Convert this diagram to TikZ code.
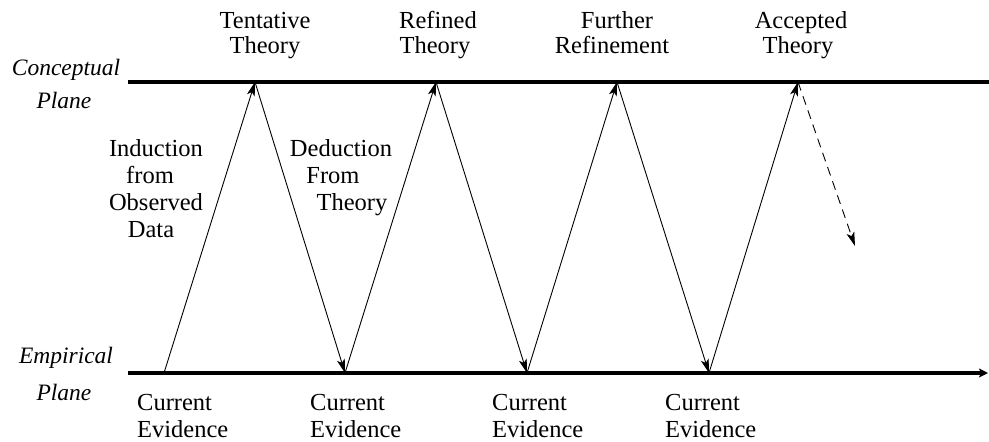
\documentclass[tikz,border=0pt]{standalone}
\usepackage{fontspec}
\setmainfont{Liberation Serif}
\usetikzlibrary{arrows.meta}
\begin{document}
\begin{tikzpicture}[x=1pt,y=-1pt,
  lbl/.style={font=\fontsize{24.5}{27}\selectfont, inner sep=0pt, anchor=base},
  lblw/.style={lbl, anchor=base west},
  plane/.style={lbl, font=\fontsize{23.5}{26}\selectfont\itshape},
  axisline/.style={line width=3.5pt},
  zig/.style={line width=0.9pt, -{Stealth[length=14pt,width=8pt,inset=3.5pt]}},
  zigdash/.style={zig, dash pattern=on 9pt off 6pt}]
\useasboundingbox (0,0) rectangle (989,442);

% planes
\coordinate (cl) at (128,82);
\coordinate (cr) at (989,82);
\coordinate (el) at (128,373);
\coordinate (er) at (988,373);
\draw[axisline] (cl) -- (cr);
\draw[axisline, -{Stealth[length=9pt,width=9pt,inset=2pt]}] (el) -- (er);

% vertices
\coordinate (b0) at (164,373);
\coordinate (t1) at (255,82);
\coordinate (b1) at (345,373);
\coordinate (t2) at (436,82);
\coordinate (b2) at (527,373);
\coordinate (t3) at (617,82);
\coordinate (b3) at (709,373);
\coordinate (t4) at (798,82);
\coordinate (d)  at (855,246);

\draw[zig] (b0) -- (t1);
\draw[zig] (t1) -- (b1);
\draw[zig] (b1) -- (t2);
\draw[zig] (t2) -- (b2);
\draw[zig] (b2) -- (t3);
\draw[zig] (t3) -- (b3);
\draw[zig] (b3) -- (t4);
\draw[zigdash] (t4) -- (d);

% plane labels
\node[plane] (conc) at (66,75) {Conceptual};
\node[plane] (concp) at (64,108) {Plane};
\node[plane] (emp) at (66,363) {Empirical};
\node[plane] (empp) at (64,400) {Plane};

% top labels
\node[lbl] (tt1) at (265,28) {Tentative};
\node[lbl] (tt2) at (265,53) {Theory};
\node[lbl] (rt1) at (438,28) {Refined};
\node[lbl] (rt2) at (435,53) {Theory};
\node[lbl] (fr1) at (617,28) {Further};
\node[lbl] (fr2) at (612,53) {Refinement};
\node[lbl] (at1) at (801,28) {Accepted};
\node[lbl] (at2) at (798,53) {Theory};

% induction / deduction
\node[lbl] (in1) at (156,156) {Induction};
\node[lbl] (in2) at (150,183) {from};
\node[lbl] (in3) at (156,210) {Observed};
\node[lbl] (in4) at (151,237) {Data};
\node[lbl] (de1) at (341,156) {Deduction};
\node[lbl] (de2) at (333,183) {From};
\node[lbl] (de3) at (352,210) {Theory};

% current evidence
\node[lblw] (ce1a) at (137,410) {Current};
\node[lblw] (ce1b) at (137,437) {Evidence};
\node[lblw] (ce2a) at (310,410) {Current};
\node[lblw] (ce2b) at (310,437) {Evidence};
\node[lblw] (ce3a) at (492,410) {Current};
\node[lblw] (ce3b) at (492,437) {Evidence};
\node[lblw] (ce4a) at (665,410) {Current};
\node[lblw] (ce4b) at (665,437) {Evidence};
\end{tikzpicture}
\end{document}
